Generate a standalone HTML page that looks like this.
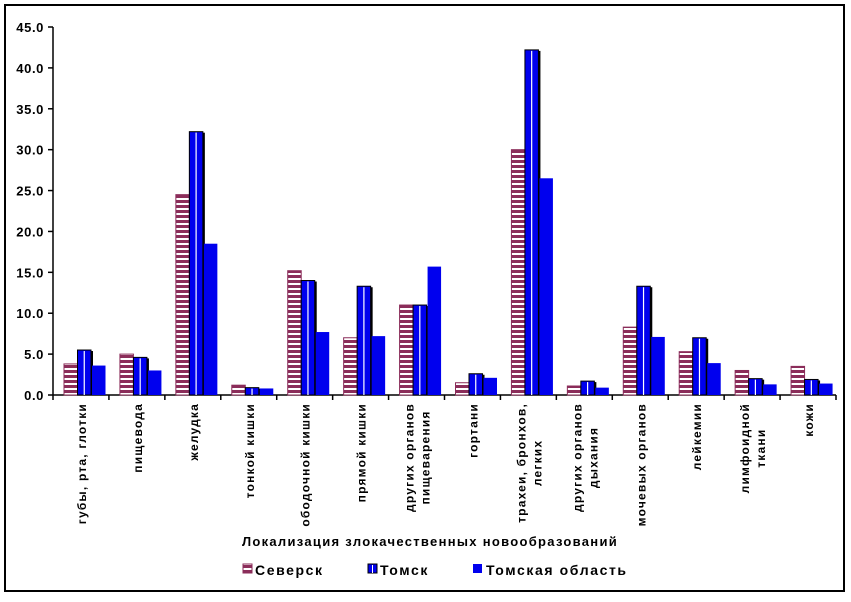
<!DOCTYPE html>
<html><head><meta charset="utf-8">
<style>
html,body{margin:0;padding:0;background:#fff;}
svg{display:block;font-family:"Liberation Sans","DejaVu Sans",sans-serif;}
</style></head>
<body>
<svg id="chart" width="851" height="602" viewBox="0 0 851 602">
<defs>
<pattern id="stripes" width="4" height="5" patternUnits="userSpaceOnUse">
<rect width="4" height="5" fill="#ffffff"/>
<rect width="4" height="3" fill="#8b2d5a"/>
</pattern>
</defs>
<rect x="5" y="5" width="839" height="586" fill="#fff" stroke="#000" stroke-width="2"/>
<g id="plot"></g>
<text x="430" y="546" text-anchor="middle" font-size="13" font-weight="bold" letter-spacing="1.3" fill="#000">Локализация злокачественных новообразований</text>
<g>
<g>
<rect x="243" y="564" width="9" height="9" fill="url(#stripes)" stroke="#8b2d5a"/>
<text x="255" y="575" font-size="14" font-weight="bold" letter-spacing="1.6">Северск</text></g>
<g>
<rect x="368" y="564" width="9" height="9" fill="#0000ee" stroke="#000"/>
<line x1="372.5" y1="565" x2="372.5" y2="573" stroke="#fff"/>
<text x="380" y="575" font-size="14" font-weight="bold" letter-spacing="1.6">Томск</text></g>
<g>
<rect x="473" y="564" width="9" height="9" fill="#0000ee"/>
<text x="486" y="575" font-size="14" font-weight="bold" letter-spacing="1.6">Томская область</text></g>
</g>
</svg>
<script>
const categories = [
 ["губы, рта, глотки"],["пищевода"],["желудка"],["тонкой кишки"],["ободочной кишки"],["прямой кишки"],
 ["других органов","пищеварения"],["гортани"],["трахеи, бронхов,","легких"],["других органов","дыхания"],
 ["мочевых органов"],["лейкемии"],["лимфоидной","ткани"],["кожи"]];
const seversk = [3.8,5.0,24.5,1.2,15.2,7.0,11.0,1.5,30.0,1.1,8.3,5.3,3.0,3.5];
const tomsk = [5.5,4.6,32.2,0.9,14.0,13.3,11.0,2.6,42.2,1.7,13.3,7.0,2.0,1.9];
const region = [3.6,3.0,18.5,0.8,7.7,7.2,15.7,2.1,26.5,0.9,7.1,3.9,1.3,1.4];
const yTicks = [0,5,10,15,20,25,30,35,40,45];

const NS="http://www.w3.org/2000/svg";
const X0=53, X1=836, Y0=395, Y1=27, YMAX=45;
const cw=(X1-X0)/categories.length;
const y=v=>Y0-(v/YMAX)*(Y0-Y1);
const plot=document.getElementById('plot');
function mk(tag,attrs,parent){const e=document.createElementNS(NS,tag);for(const k in attrs)e.setAttribute(k,attrs[k]);(parent||plot).appendChild(e);return e;}

const ya=mk('line',{x1:X0,y1:Y1,x2:X0,y2:Y0,stroke:'#000','stroke-width':1.5});


yTicks.forEach(t=>{
 mk('line',{x1:X0-5,y1:y(t),x2:X0,y2:y(t),stroke:'#000','stroke-width':1.5});
 const tx=mk('text',{x:X0-9,y:y(t)+5,'text-anchor':'end','font-size':13,'font-weight':'bold','letter-spacing':0.6});
 tx.textContent=t.toFixed(1);
 
 
});
const xa=mk('line',{x1:X0,y1:Y0,x2:X1,y2:Y0,stroke:'#000','stroke-width':1.5});


for(let i=0;i<=categories.length;i++){
 mk('line',{x1:X0+i*cw,y1:Y0,x2:X0+i*cw,y2:Y0+5,stroke:'#000','stroke-width':1.5});
}
const bw=13.5;
categories.forEach((c,i)=>{
 const base=X0+i*cw+11;
 const h1=Y0-y(seversk[i]);
 const b1=mk('rect',{x:base,y:y(seversk[i]),width:bw,height:h1,fill:'url(#stripes)',stroke:'#8b2d5a','stroke-width':1});
 
 
 const x2=base+bw;
 mk('rect',{x:x2+2,y:y(tomsk[i])+1,width:bw,height:Y0-y(tomsk[i])-1,fill:'#000'});
 const b2=mk('rect',{x:x2,y:y(tomsk[i]),width:bw,height:Y0-y(tomsk[i]),fill:'#0000ee',stroke:'#000','stroke-width':1});
 
 
 mk('line',{x1:x2+bw/2,y1:y(tomsk[i])+1,x2:x2+bw/2,y2:Y0,stroke:'#fff','stroke-width':1.2});
 const x3=x2+bw+1;
 const b3=mk('rect',{x:x3,y:y(region[i]),width:bw,height:Y0-y(region[i]),fill:'#0000ee'});
 
 
 const cx=X0+(i+0.5)*cw;
 const n=c.length;
 const g=mk('g',{});
 
 
 const texts=c.map((line,j)=>{
  const lx=cx+(j-(n-1)/2)*16+5;
  const t=mk('text',{'font-size':12,'font-weight':'bold','text-anchor':'middle','letter-spacing':1.2},g);
  t.textContent=line;
  t._lx=lx;return t;});
 const maxL=Math.max(...texts.map(t=>t.getComputedTextLength()));
 const cy=403+maxL/2;
 texts.forEach(t=>{t.setAttribute('transform','translate('+t._lx+','+cy+') rotate(-90)');});
});
</script>
</body></html>
